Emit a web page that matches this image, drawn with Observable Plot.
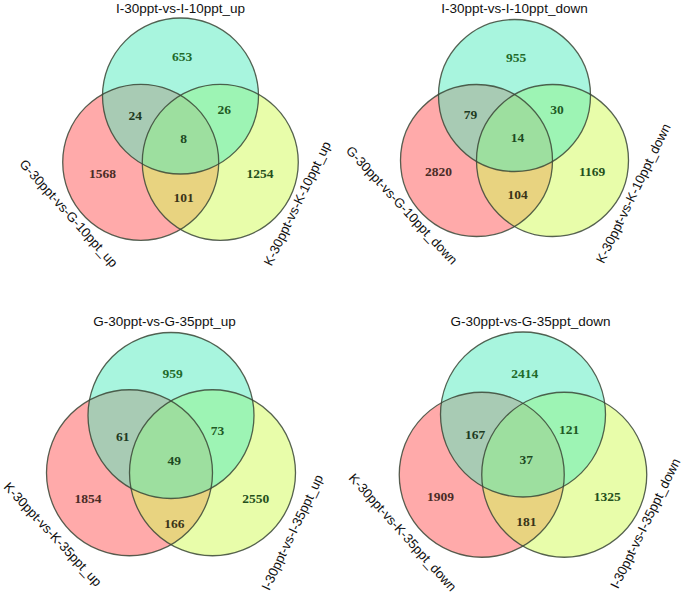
<!DOCTYPE html>
<html><head><meta charset="utf-8">
<script src="https://cdn.jsdelivr.net/npm/d3@7"></script>
<script src="https://cdn.jsdelivr.net/npm/@observablehq/plot@0.6"></script>
<style>
body{margin:0;background:#fff;}
#root{position:relative;width:685px;height:601px;overflow:hidden;}
.panel{position:absolute;}
</style></head><body><div id="root"></div>
<script>
// ---- data ----
const titles = ["I-30ppt-vs-I-10ppt_up","I-30ppt-vs-I-10ppt_down","G-30ppt-vs-G-35ppt_up","G-30ppt-vs-G-35ppt_down"];
const leftSets = ["G-30ppt-vs-G-10ppt_up","G-30ppt-vs-G-10ppt_down","K-30ppt-vs-K-35ppt_up","K-30ppt-vs-K-35ppt_down"];
const rightSets = ["K-30ppt-vs-K-10ppt_up","K-30ppt-vs-K-10ppt_down","I-30ppt-vs-I-35ppt_up","I-30ppt-vs-I-35ppt_down"];
const regions = ["topOnly","topLeft","topRight","all","leftOnly","rightOnly","leftRight"];
const counts1 = [653,24,26,8,1568,1254,101];
const counts2 = [955,79,30,14,2820,1169,104];
const counts3 = [959,61,73,49,1854,2550,166];
const counts4 = [2414,167,121,37,1909,1325,181];
const allCounts = [counts1, counts2, counts3, counts4];

// ---- layout (pixels within each panel) ----
const panels = [
 {left:0,   top:0,   w:343, h:300, r:78,   cx:180,   cy:95.5, hs:0.51, vs:0.85,  title:[180,8],  lab:[[68,213,48],[297,203,-64]]},
 {left:342, top:0,   w:343, h:300, r:76,   cx:172,   cy:95,   hs:0.50, vs:0.855, title:[172,8],  lab:[[59,205,47],[291,193,-64]]},
 {left:0,   top:300, w:343, h:301, r:83,   cx:170.5, cy:115,  hs:0.50, vs:0.69,  title:[164,21], lab:[[52,234,47],[292,232,-64.5]]},
 {left:342, top:300, w:343, h:301, r:82.5, cx:180.5, cy:114,  hs:0.50, vs:0.73,  title:[188,21], lab:[[60,232,48],[303,223,-64]]}
];
// label offsets relative to the top circle's centre, in radius units
const regionOffsets = {topOnly:[0.02,-0.5], topLeft:[-0.58,0.25], topRight:[0.56,0.18], all:[0.04,0.55], leftOnly:[-1.0,1.0], rightOnly:[1.02,1.0], leftRight:[0.04,1.3]};
const regionColors = {topOnly:"#1f6a2a", topLeft:"#1e3a22", topRight:"#1f5a24", all:"#1d4a1f", leftOnly:"#4a2c26", rightOnly:"#24501c", leftRight:"#3a3418"};
const circleFills = {left:"#ff5555", right:"#d1fb55", top:"#51ebbd"};

const root = document.getElementById("root");
panels.forEach((p, i) => {
  const toX = px => (px - p.cx) / p.r;
  const toY = py => (py - p.cy) / p.r;
  const circles = [
    {set:"left",  x:-p.hs, y:p.vs},
    {set:"right", x:p.hs,  y:p.vs},
    {set:"top",   x:0,     y:0}
  ];
  const regionData = regions.map((k, j) => ({
    key:k, count: allCounts[i][j],
    x: regionOffsets[k][0], y: regionOffsets[k][1], color: regionColors[k]
  }));
  const setLabels = [
    {text:leftSets[i],  x:toX(p.lab[0][0]), y:toY(p.lab[0][1]), rot:p.lab[0][2]},
    {text:rightSets[i], x:toX(p.lab[1][0]), y:toY(p.lab[1][1]), rot:p.lab[1][2]}
  ];
  const chart = Plot.plot({
    width:p.w, height:p.h, margin:0,
    x:{domain:[toX(0), toX(p.w)], range:[0,p.w], axis:null},
    y:{domain:[toY(0), toY(p.h)], range:[0,p.h], axis:null},
    color:{type:"identity"},
    style:{background:"transparent", overflow:"visible"},
    marks:[
      Plot.dot(circles, {x:"x", y:"y", r:p.r, fill:d=>circleFills[d.set], fillOpacity:0.5, stroke:"none"}),
      Plot.dot(circles, {x:"x", y:"y", r:p.r, fill:"none", stroke:"#3a4636", strokeWidth:1.3, strokeOpacity:0.85}),
      Plot.text(regionData, {x:"x", y:"y", text:d=>String(d.count), fill:"color",
        fontFamily:"'Liberation Serif', 'DejaVu Serif', serif", fontWeight:"bold", fontSize:13.5}),
      Plot.text([titles[i]], {x:toX(p.title[0]), y:toY(p.title[1]), text:d=>d,
        fontFamily:"'Liberation Sans', Arial, sans-serif", fontSize:13.5, fill:"#111"}),
      Plot.text(setLabels, {x:"x", y:"y", text:"text", rotate:"rot",
        fontFamily:"'Liberation Sans', Arial, sans-serif", fontSize:13.2, fill:"#111"})
    ]
  });
  const div = document.createElement("div");
  div.className = "panel";
  div.style.left = p.left + "px";
  div.style.top = p.top + "px";
  div.appendChild(chart);
  root.appendChild(div);
});
</script></body></html>
